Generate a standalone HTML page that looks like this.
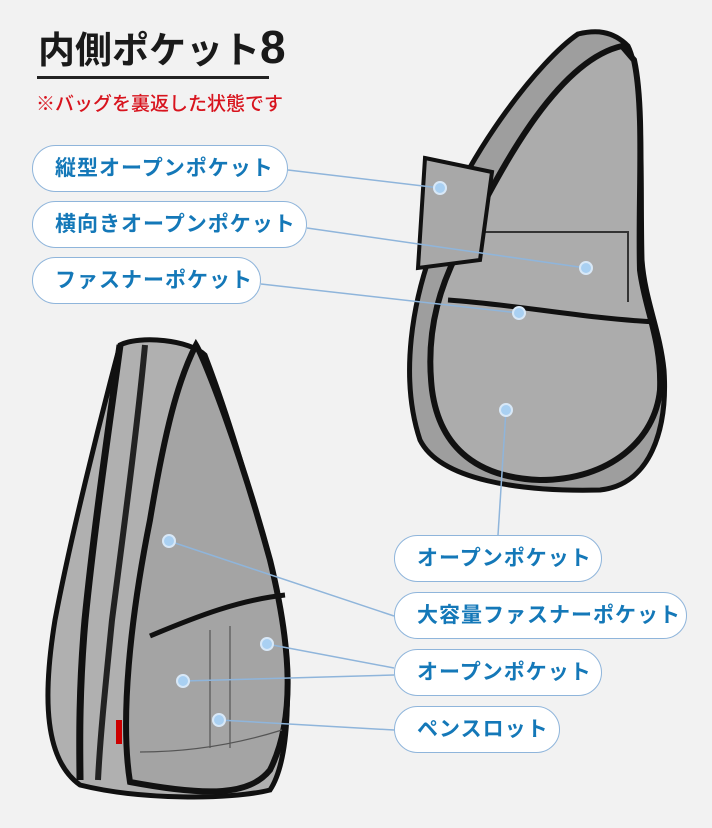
<!DOCTYPE html>
<html><head><meta charset="utf-8"><style>
html,body{margin:0;padding:0}
body{width:712px;height:828px;background:#f2f2f2;position:relative;overflow:hidden;font-family:"Liberation Sans","Noto Sans CJK JP",sans-serif}
.t{position:absolute;left:38px;top:24px;font-size:37px;font-weight:bold;color:#1a1a1a;letter-spacing:0px;line-height:46px}
.ul{position:absolute;left:37px;top:76px;width:232px;height:3px;background:#222}
.r{position:absolute;left:36px;top:92px;font-size:19px;font-weight:500;color:#d8141e;line-height:26px}
.lb{position:absolute;height:45px;border:1.5px solid #8fb5db;border-radius:24px;background:#fff;color:#1478b8;font-weight:bold;font-size:21px;line-height:45px;box-sizing:content-box;padding-left:22px;letter-spacing:1px}
svg{position:absolute;left:0;top:0}
</style></head><body>
<svg width="712" height="828">
<path d="M578,34 C540,60 470,150 440,230 C410,300 400,380 420,440 C440,480 520,492 600,490 C650,485 668,430 664,370 C660,330 645,300 642,260 C640,180 645,80 628,46 C612,30 595,30 578,34Z" fill="#9e9e9e" stroke="#111" stroke-width="5"/>
<path d="M622,46 C560,60 505,160 470,230 C440,280 425,330 432,390 C440,450 480,478 540,480 C610,480 655,440 660,390 C662,340 645,310 640,270 C638,200 645,110 634,60Z" fill="#acacac" stroke="#111" stroke-width="6"/>
<path d="M448,300 C520,305 580,318 656,322" fill="none" stroke="#111" stroke-width="5"/>
<path d="M480,232 L628,232 L628,302" fill="none" stroke="#333" stroke-width="2"/>
<path d="M425,158 L492,172 L480,260 L418,268Z" fill="#a8a8a8" stroke="#111" stroke-width="4"/>
<path d="M120,345 C100,420 70,540 55,620 C42,700 45,760 80,785 C140,800 230,800 270,790 C290,760 292,680 280,610 C260,520 230,420 205,355 C190,340 140,335 120,345Z" fill="#b0b0b0" stroke="#111" stroke-width="5"/>
<path d="M120,345 C110,420 95,520 85,620 C78,700 80,760 80,780" fill="none" stroke="#111" stroke-width="7"/>
<path d="M145,345 C138,420 125,520 112,620 C104,700 100,740 98,780" fill="none" stroke="#222" stroke-width="6"/>
<path d="M196,345 C205,360 240,450 270,560 C292,650 295,720 270,770 C250,795 210,797 130,782 C120,720 130,620 150,520 C165,430 178,380 196,345Z" fill="#a4a4a4" stroke="#111" stroke-width="6"/>
<path d="M150,636 C200,615 240,600 285,595" fill="none" stroke="#111" stroke-width="5"/>
<path d="M210,630 L210,748 M230,626 L230,748 M140,752 C200,752 250,740 282,730" fill="none" stroke="#555" stroke-width="1.2"/>
<rect x="116" y="720" width="6" height="24" fill="#c00"/>
<g stroke="#8fb5db" stroke-width="1.5" fill="none">
<line x1="288" y1="170" x2="440" y2="188"/>
<line x1="307" y1="228" x2="586" y2="268"/>
<line x1="261" y1="284" x2="519" y2="313"/>
<line x1="498" y1="535" x2="506" y2="410"/>
<line x1="394" y1="616" x2="169" y2="541"/>
<line x1="394" y1="668" x2="267" y2="644"/>
<line x1="394" y1="675" x2="183" y2="681"/>
<line x1="394" y1="730" x2="219" y2="720"/>
</g>
<g fill="#a9d0f2" stroke="#d8e8f7" stroke-width="2">
<circle cx="440" cy="188" r="6"/><circle cx="586" cy="268" r="6"/><circle cx="519" cy="313" r="6"/><circle cx="506" cy="410" r="6"/>
<circle cx="169" cy="541" r="6"/><circle cx="267" cy="644" r="6"/><circle cx="183" cy="681" r="6"/><circle cx="219" cy="720" r="6"/>
</g>
</svg>
<div class="t">内側ポケット<span style="font-size:46px">8</span></div>
<div class="ul"></div>
<div class="r">※バッグを裏返した状態です</div>
<div class="lb" style="left:32px;top:145px;width:232px">縦型オープンポケット</div>
<div class="lb" style="left:32px;top:201px;width:251px">横向きオープンポケット</div>
<div class="lb" style="left:32px;top:257px;width:205px">ファスナーポケット</div>
<div class="lb" style="left:394px;top:535px;width:184px">オープンポケット</div>
<div class="lb" style="left:394px;top:592px;width:269px">大容量ファスナーポケット</div>
<div class="lb" style="left:394px;top:649px;width:184px">オープンポケット</div>
<div class="lb" style="left:394px;top:706px;width:142px">ペンスロット</div>
</body></html>
